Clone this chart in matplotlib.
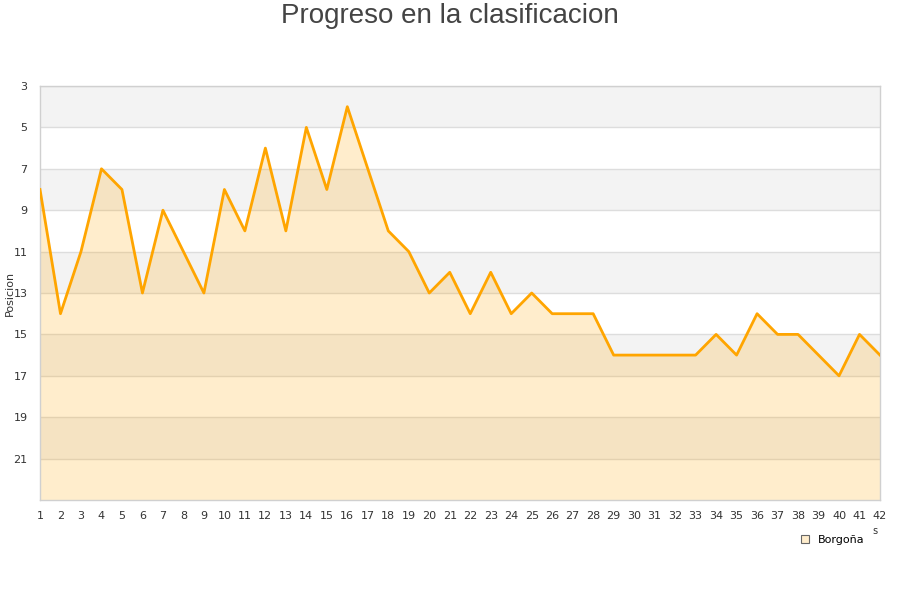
import matplotlib
matplotlib.use("Agg")
import matplotlib.pyplot as plt
from matplotlib.lines import Line2D

jornadas = list(range(1, 43))
posiciones = [8, 14, 11, 7, 8, 13, 9, 11, 13, 8, 10, 6, 10, 5, 8, 4, 7, 10, 11, 13,
              12, 14, 12, 14, 13, 14, 14, 14, 16, 16, 16, 16, 16, 15, 16, 14, 15, 15,
              16, 17, 15, 16]
y_ticks = [3, 5, 7, 9, 11, 13, 15, 17, 19, 21]
serie = "Borgoña"
titulo = "Progreso en la clasificacion"
ylabel = "Posicion"

fig = plt.figure(figsize=(9, 6), dpi=100)
ax = fig.add_axes([40/900, 100/600, 840/900, 414/600])

ymin, ymax = 3, 23
# alternating bands
for i, start in enumerate(range(ymin, ymax, 2)):
    col = "#f3f3f3" if i % 2 == 0 else "#ffffff"
    ax.axhspan(start, start + 2, color=col, zorder=0, lw=0)
for t in y_ticks:
    ax.axhline(t, color="#dddddd", lw=1, zorder=1)

ax.fill_between(jornadas, posiciones, ymax, color="#ffa500", alpha=0.2, lw=0, zorder=2)
ax.plot(jornadas, posiciones, color="#ffa500", lw=2.0, zorder=3)

ax.set_xlim(1, 42)
ax.set_ylim(ymax, ymin)
ax.set_xticks(jornadas)
ax.set_xticklabels([str(j) for j in jornadas])
ax.set_yticks(y_ticks)
ax.tick_params(axis="both", length=0, labelsize=8, colors="#333333")
ax.tick_params(axis="x", pad=8)
ax.tick_params(axis="y", pad=9)
for s in ax.spines.values():
    s.set_color("#d0d0d0")
    s.set_linewidth(1)

fig.text(10/900, 1 - 293/600, ylabel, rotation=90, fontsize=8, color="#333333",
         ha="center", va="center")

fig.text(0.5, 1 - 16/600, titulo, ha="center", va="center", fontsize=20,
         color="#444444", family=["Liberation Sans Narrow", "Liberation Sans", "DejaVu Sans"])

handle = Line2D([], [], marker="s", ls="none", markersize=6,
                markerfacecolor="#ffedcc", markeredgecolor="#666666", markeredgewidth=0.8)
fig.legend([handle], [serie], loc="center", bbox_to_anchor=(832/900, 1 - 540/600),
           frameon=False, fontsize=8, handletextpad=0.6, handlelength=1.0)
fig.text(875/900, 1 - 531/600, "s", fontsize=7, color="#333333", ha="center", va="center")

fig.savefig("out.png", dpi=100)
